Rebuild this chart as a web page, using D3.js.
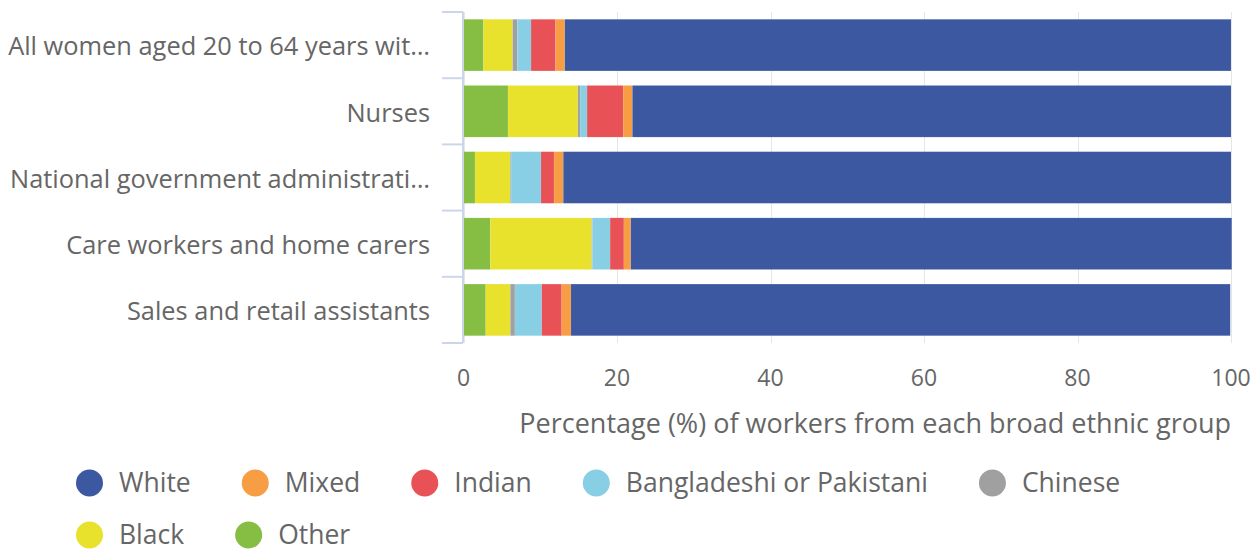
<!DOCTYPE html>
<html>
<head>
<meta charset="utf-8">
<script src="https://cdn.jsdelivr.net/npm/d3@7"></script>
<style>
  body { margin: 0; background: #fff; }
  svg { font-family: "Open Sans", sans-serif; }
  .cat-label, .tick-label, .axis-title, .legend-label { fill: #666; }
</style>
</head>
<body>
<div class="js-chart"></div>
<script>
// Categories as displayed (long ones are cut off in the original)
const categories = [
    'All women aged 20 to 64 years wit\u2026',
    'Nurses',
    'National government administrati\u2026',
    'Care workers and home carers',
    'Sales and retail assistants'
];

// One array per ethnic group, in the order of the categories (%)
const white = [86.8, 78.0, 87.0, 78.3, 85.9];
const mixed = [1.2, 1.2, 1.2, 0.9, 1.2];
const indian = [3.2, 4.7, 1.7, 1.8, 2.6];
const bangladeshiPakistani = [1.8, 0.9, 3.9, 2.3, 3.5];
const chinese = [0.6, 0.3, 0.1, 0.1, 0.6];
const black = [3.8, 9.1, 4.6, 13.2, 3.2];
const other = [2.6, 5.8, 1.5, 3.5, 2.9];

const xTicks = [0, 20, 40, 60, 80, 100];
const xTitle = 'Percentage (%) of workers from each broad ethnic group';

// Legend order; the stack is drawn in reverse (Other on the left)
const series = [
    { name: 'White', values: white, color: '#3c58a0' },
    { name: 'Mixed', values: mixed, color: '#f79d43' },
    { name: 'Indian', values: indian, color: '#e85256' },
    { name: 'Bangladeshi or Pakistani', values: bangladeshiPakistani, color: '#88cfe5' },
    { name: 'Chinese', values: chinese, color: '#a0a0a0' },
    { name: 'Black', values: black, color: '#e8e22c' },
    { name: 'Other', values: other, color: '#86be44' }
];

const WIDTH = 1260;
const HEIGHT = 553;
const margin = { top: 12, right: 29, bottom: 210, left: 463.5 };

const svg = d3.select('.js-chart').append('svg')
    .attr('width', WIDTH)
    .attr('height', HEIGHT);

const x = d3.scaleLinear()
    .domain([0, 100])
    .range([margin.left, WIDTH - margin.right]);

const y = d3.scaleBand()
    .domain(categories)
    .range([margin.top, HEIGHT - margin.bottom])
    .paddingInner(0.22)
    .paddingOuter(0.11);

// Vertical grid lines
svg.append('g')
    .selectAll('line')
    .data(xTicks)
    .enter()
    .append('line')
    .attr('x1', (d) => Math.round(x(d)) + 0.5)
    .attr('x2', (d) => Math.round(x(d)) + 0.5)
    .attr('y1', margin.top)
    .attr('y2', HEIGHT - margin.bottom)
    .attr('stroke', '#e6e6e6')
    .attr('stroke-width', 1);

// Stack the rows, last series first so it sits on the left
const rows = categories.map((c, i) => {
    const row = { category: c };
    series.forEach((s) => row[s.name] = s.values[i]);
    return row;
});
const stack = d3.stack().keys(series.map((s) => s.name).reverse());
const layers = stack(rows);
const colorOf = new Map(series.map((s) => [s.name, s.color]));

svg.append('g')
    .selectAll('g')
    .data(layers)
    .enter()
    .append('g')
    .attr('fill', (d) => colorOf.get(d.key))
    .selectAll('rect')
    .data((d) => d)
    .enter()
    .append('rect')
    .attr('x', (d) => x(d[0]))
    .attr('y', (d) => y(d.data.category))
    .attr('width', (d) => Math.max(0, x(d[1]) - x(d[0])))
    .attr('height', y.bandwidth())
    .attr('stroke', '#fff')
    .attr('stroke-opacity', 0.15)
    .attr('stroke-width', 0.5);

// Category axis line and ticks at the band edges
const catAxis = svg.append('g');
catAxis.append('line')
    .attr('x1', 463).attr('x2', 463)
    .attr('y1', margin.top).attr('y2', HEIGHT - margin.bottom)
    .attr('stroke', '#ccd6eb')
    .attr('stroke-width', 2);

const edges = categories.map((c) => y(c) - y.step() * y.paddingInner() / 2);
edges.push(HEIGHT - margin.bottom);
edges[0] = margin.top;
catAxis.selectAll('.cat-tick')
    .data(edges)
    .enter()
    .append('line')
    .attr('class', 'cat-tick')
    .attr('x1', 442).attr('x2', 463)
    .attr('y1', (d) => d).attr('y2', (d) => d)
    .attr('stroke', '#ccd6eb')
    .attr('stroke-width', 2);

catAxis.selectAll('.cat-label')
    .data(categories)
    .enter()
    .append('text')
    .attr('class', 'cat-label')
    .attr('x', 430)
    .attr('y', (d) => y(d) + y.bandwidth() / 2 + 1.5)
    .attr('dy', '0.35em')
    .attr('text-anchor', 'end')
    .style('font-size', '25.4px')
    .text((d) => d);

// Value axis labels and title
svg.append('g')
    .selectAll('text')
    .data(xTicks)
    .enter()
    .append('text')
    .attr('class', 'tick-label')
    .attr('x', (d) => x(d))
    .attr('y', 386)
    .attr('text-anchor', 'middle')
    .style('font-size', '23px')
    .text((d) => d);

svg.append('text')
    .attr('class', 'axis-title')
    .attr('x', x(100))
    .attr('y', 433)
    .attr('text-anchor', 'end')
    .style('font-size', '27px')
    .text(xTitle);

// Legend, laid out left to right and wrapped like the original
const legend = svg.append('g');
let lx = 76;
let ly = 483;
series.forEach((s) => {
    const item = legend.append('g');
    const label = item.append('text')
        .attr('class', 'legend-label')
        .attr('x', 43)
        .attr('dy', '0.35em')
        .style('font-size', '26.5px')
        .text(s.name);
    const w = 43 + label.node().getComputedTextLength();
    if (lx + w > WIDTH - 20) {
        lx = 76;
        ly += 52;
    }
    item.attr('transform', `translate(${lx},${ly})`);
    item.append('circle')
        .attr('cx', 13.5)
        .attr('r', 13.5)
        .attr('fill', s.color);
    lx += w + 51;
});
</script>
</body>
</html>
